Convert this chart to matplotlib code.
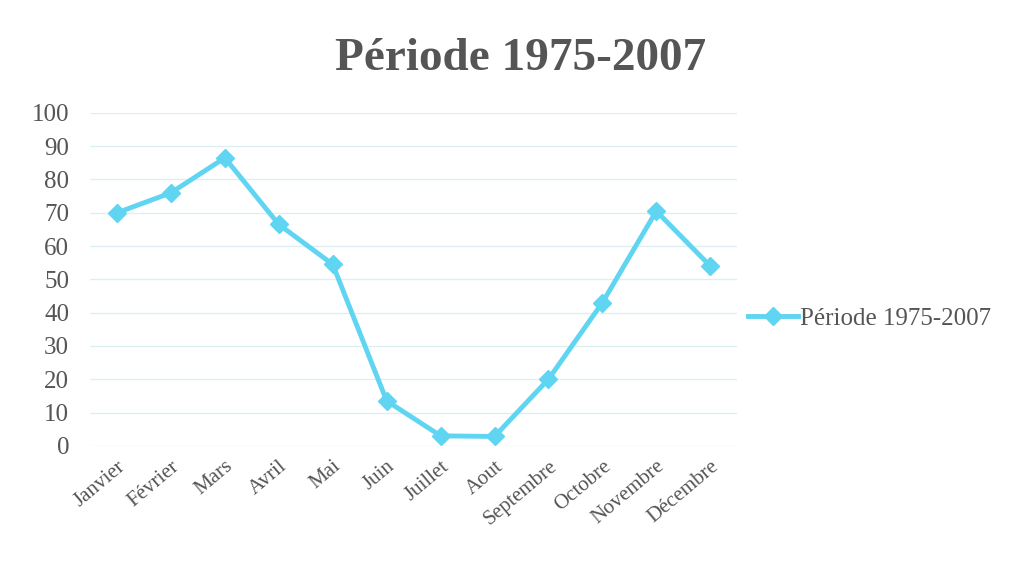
import matplotlib.pyplot as plt

mois = ['Janvier', 'Février', 'Mars', 'Avril', 'Mai', 'Juin', 'Juillet',
        'Aout', 'Septembre', 'Octobre', 'Novembre', 'Décembre']
valeurs = [70, 76, 86.5, 66.5, 54.5, 13.5, 3, 2.8, 20, 43, 70.5, 54]
yticks = list(range(0, 101, 10))

plt.rcParams['font.family'] = ['Liberation Serif', 'DejaVu Serif']

fig = plt.figure(figsize=(10.16, 5.82), dpi=100)
ax = fig.add_axes([0.0886, 0.234, 0.637, 0.572])

couleur = '#5fd5f2'
x = list(range(len(mois)))
ax.plot(x, valeurs, color=couleur, lw=3.5, marker='D', markersize=9,
        label='Période 1975-2007')

ax.set_xlim(-0.5, len(mois) - 0.5)
ax.set_ylim(0, 100)
ax.set_yticks(yticks)
ax.set_xticks(x)
ax.set_xticklabels(mois, rotation=40, ha='right', rotation_mode='anchor')
ax.tick_params(axis='both', length=0, labelcolor='#555555')
ax.tick_params(axis='y', pad=15, labelsize=18)
ax.tick_params(axis='x', pad=8, labelsize=15)
ax.grid(axis='y', color='#dcf0f2', lw=1)
for s in ax.spines.values():
    s.set_visible(False)

fig.suptitle('Période 1975-2007', x=0.512, y=0.935, fontsize=34,
             fontweight='bold', color='#555555')

fig.legend(loc='center left', bbox_to_anchor=(0.714, 0.453), frameon=False,
           fontsize=18, handlelength=2.0, handletextpad=0.1,
           labelcolor='#555555')

fig.savefig('out.png', dpi=100)
